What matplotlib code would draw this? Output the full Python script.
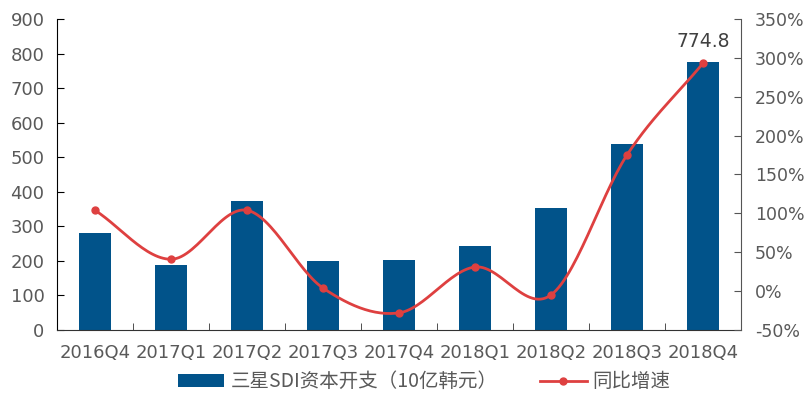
import matplotlib.pyplot as plt
import numpy as np
from matplotlib.ticker import FuncFormatter, MultipleLocator

plt.rcParams['font.family'] = ['Noto Sans CJK SC', 'DejaVu Sans']

# quarterly capex and yoy growth
quarters = ['2016Q4', '2017Q1', '2017Q2', '2017Q3', '2017Q4',
            '2018Q1', '2018Q2', '2018Q3', '2018Q4']
capex = [281, 188, 373, 200, 203, 243, 353, 538, 774.8]
growth = [104, 41, 104, 4, -28, 31, -5, 175, 293]

bar_color = '#01538A'
line_color = '#DE4040'
tick_color = '#595959'


def smooth(x, y, n=30):
    # catmull-rom curve through the points (like excel's smoothed line)
    x = np.asarray(x, float)
    y = np.asarray(y, float)
    px = np.concatenate([[2 * x[0] - x[1]], x, [2 * x[-1] - x[-2]]])
    py = np.concatenate([[2 * y[0] - y[1]], y, [2 * y[-1] - y[-2]]])
    xs, ys = [], []
    t = np.linspace(0, 1, n)
    for i in range(1, len(px) - 2):
        for p, out in ((px, xs), (py, ys)):
            p0, p1, p2, p3 = p[i - 1], p[i], p[i + 1], p[i + 2]
            out.extend(0.5 * (2 * p1 + (-p0 + p2) * t
                              + (2 * p0 - 5 * p1 + 4 * p2 - p3) * t ** 2
                              + (-p0 + 3 * p1 - 3 * p2 + p3) * t ** 3))
    return np.array(xs), np.array(ys)


fig = plt.figure(figsize=(8.08, 3.96), dpi=100)
ax = fig.add_axes([0.0705, 0.1667, 0.8465, 0.7853])
ax2 = ax.twinx()

pos = np.arange(len(quarters))
ax.bar(pos, capex, width=0.42, color=bar_color, label='三星SDI资本开支（10亿韩元）', zorder=2)
ax.set_xlim(-0.5, len(quarters) - 0.5)
ax.set_ylim(0, 900)
ax.yaxis.set_major_locator(MultipleLocator(100))
ax.set_xticks(pos)
ax.set_xticklabels(quarters)
ax.set_xticks(np.arange(-0.5, len(quarters)), minor=True)

sx, sy = smooth(pos, growth)
ax2.plot(sx, sy, color=line_color, lw=2, zorder=3)
ax2.plot(pos, growth, 'o', color=line_color, ms=5, zorder=4)
ax2.plot([], [], color=line_color, lw=2, marker='o', ms=5, label='同比增速')
ax2.set_ylim(-50, 350)
ax2.yaxis.set_major_locator(MultipleLocator(50))
ax2.yaxis.set_major_formatter(FuncFormatter(lambda v, _: f'{v:.0f}%'))

ax.annotate(f'{capex[-1]}', (pos[-1], capex[-1]), xytext=(0, 8),
            textcoords='offset points', ha='center', va='bottom',
            fontsize=13.5, color='#404040', family='DejaVu Sans')

for a in (ax, ax2):
    a.spines['top'].set_visible(False)
ax.spines['right'].set_visible(False)
ax2.spines['left'].set_visible(False)
ax2.spines['bottom'].set_visible(False)
ax.spines['left'].set_color('black')
ax.spines['bottom'].set_color('#333333')
ax2.spines['right'].set_color('#555555')

ax.tick_params(axis='y', direction='in', length=5, labelsize=13, colors=tick_color, pad=9)
ax.tick_params(axis='y', color='black')
ax.tick_params(axis='x', which='major', length=0, labelsize=13, labelcolor=tick_color, pad=10)
ax.tick_params(axis='x', which='minor', direction='in', length=5, color='#333333')
ax2.tick_params(axis='y', direction='in', length=5, labelsize=12.5, colors=tick_color, pad=10)
ax2.tick_params(axis='y', color='#555555')
for lab in ax.get_xticklabels() + ax.get_yticklabels() + ax2.get_yticklabels():
    lab.set_family('DejaVu Sans')

h1, l1 = ax.get_legend_handles_labels()
h2, l2 = ax2.get_legend_handles_labels()
leg = fig.legend(h1 + h2, l1 + l2, loc='lower center', bbox_to_anchor=(0.525, -0.035),
                 ncol=2, frameon=False, fontsize=14, columnspacing=2.2,
                 handlelength=2.4, handletextpad=0.3)
for t in leg.get_texts():
    t.set_color(tick_color)

fig.savefig('out.png', dpi=100)
